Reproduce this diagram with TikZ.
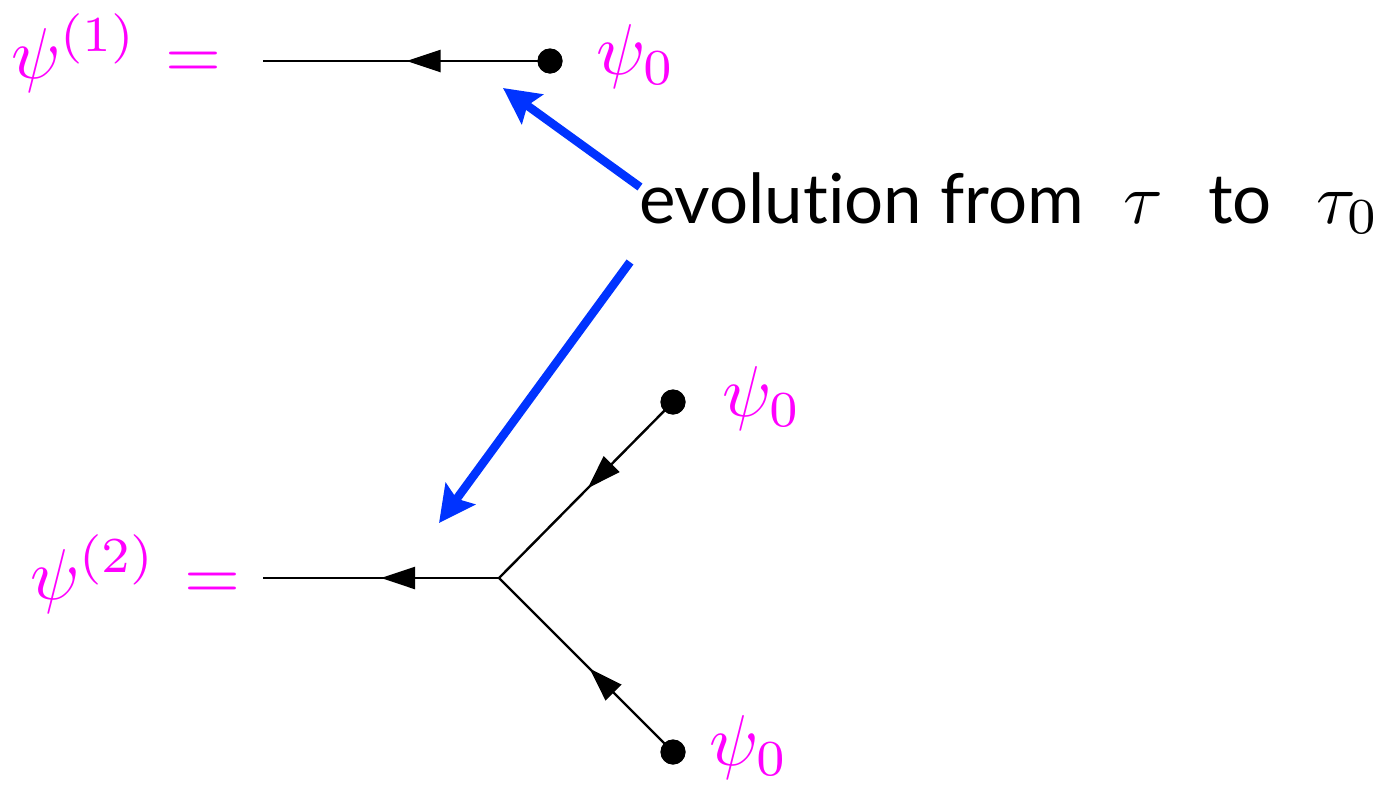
\documentclass[tikz,border=0pt]{standalone}
\usepackage{graphicx}
\usepackage{fontspec}
\setsansfont{Lato}[Ligatures=NoCommon]
\usetikzlibrary{arrows.meta,decorations.markings}
\definecolor{mag}{RGB}{255,0,255}
\definecolor{evblue}{RGB}{0,51,255}
\newcommand\mlab[1]{\scalebox{7.2}{$#1$}}
\begin{document}
\begin{tikzpicture}[x=1pt,y=-1pt,
  prop/.style={line width=2.4pt, postaction={decorate},
    decoration={markings, mark=at position #1 with {\arrow{Triangle[length=34pt,width=22pt]}}}},
  prop/.default=0.5,
  vtx/.style={circle, fill=black, inner sep=0pt, minimum size=25pt},
  lab/.style={text=mag, inner sep=0pt},
  evo/.style={-{Stealth[length=36pt,width=36pt,inset=6pt]}, line width=8.5pt, draw=evblue},
  txt/.style={font=\fontsize{69}{80}\selectfont\sffamily, inner sep=0pt},
  mtxt/.style={inner sep=0pt},
]
\useasboundingbox (0,0) rectangle (1382,785);

% top diagram
\coordinate (e1) at (263,61);
\node[vtx] (d1) at (550,61) {};
\draw[prop] (d1.center) -- (e1);
\node[vtx] at (d1) {};
\node[lab, anchor=base east] (l1) at (222,78) {\mlab{\psi^{(1)}\mkern2mu=}};
\node[lab, anchor=base west] (p1) at (596,74) {\mlab{\psi_0}};

% bottom diagram
\coordinate (v) at (499,578);
\coordinate (e2) at (263,578);
\node[vtx] (d2) at (673,402) {};
\node[vtx] (d3) at (673,752) {};
\draw[prop] (v) -- (e2);
\draw[prop=0.49] (d2.center) -- (v);
\draw[prop=0.48] (d3.center) -- (v);
\node[vtx] at (d2) {};
\node[vtx] at (d3) {};
\node[lab, anchor=base east] (l2) at (241,599) {\mlab{\psi^{(2)}\mkern2mu=}};
\node[lab, anchor=base west] (p2) at (722,416) {\mlab{\psi_0}};
\node[lab, anchor=base west] (p3) at (709,765) {\mlab{\psi_0}};

% text and blue arrows
\node[txt, anchor=base west] (t1) at (639,223) {evolution from};
\node[mtxt, anchor=base west] (t2) at (1123,223) {\mlab{\tau}};
\node[txt, anchor=base west] (t3) at (1208,223) {to};
\node[mtxt, anchor=base west] (t4) at (1316,223) {\mlab{\tau_0}};
\coordinate (a1s) at (640,187);
\coordinate (a1e) at (503,88);
\coordinate (a2s) at (630,262);
\coordinate (a2e) at (439,523);
\draw[evo] (a1s) -- (a1e);
\draw[evo] (a2s) -- (a2e);
\end{tikzpicture}
\end{document}
